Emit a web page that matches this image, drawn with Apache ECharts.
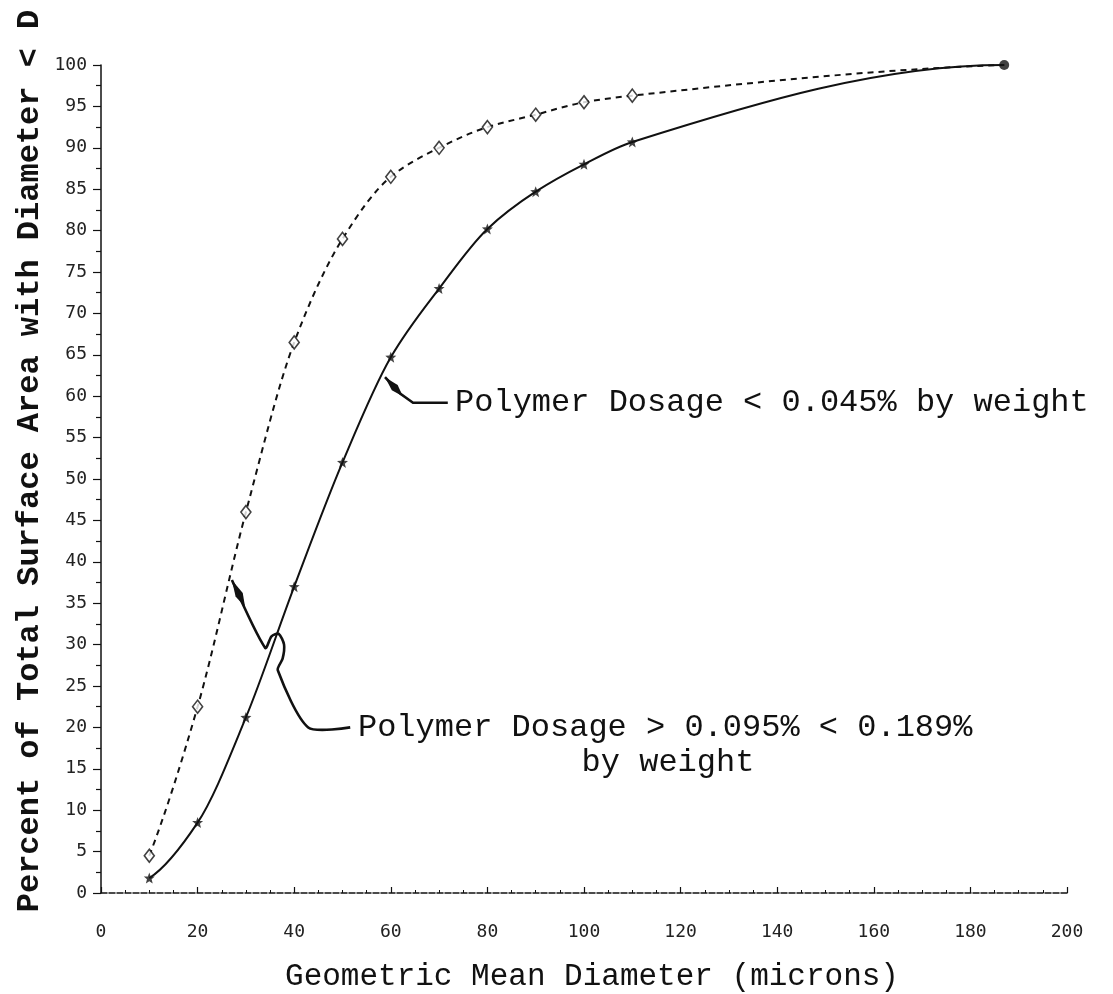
<!DOCTYPE html>
<html>
<head>
<meta charset="utf-8">
<script src="https://cdn.jsdelivr.net/npm/echarts@6/dist/echarts.min.js"></script>
<style>
html,body{margin:0;padding:0;background:#fff;}
#chart{width:1113px;height:994px;}
</style>
</head>
<body>
<div id="chart"></div>
<script>
// ---- data ----
const xValues = [10, 20, 30, 40, 50, 60, 70, 80, 90, 100, 110, 187];
const dashedY = [4.5, 22.5, 46, 66.5, 79, 86.5, 90, 92.5, 94, 95.5, 96.3, 100];
const solidY  = [1.8, 8.5, 21.2, 37, 52, 64.7, 73, 80.2, 84.7, 88, 90.7, 100];
const xTickLabels = [0, 20, 40, 60, 80, 100, 120, 140, 160, 180, 200];
const yTickLabels = [0,5,10,15,20,25,30,35,40,45,50,55,60,65,70,75,80,85,90,95,100];
const xTitle = 'Geometric Mean Diameter (microns)';
const yTitle = 'Percent of Total Surface Area with Diameter < D';
const upperLabel = 'Polymer Dosage < 0.045% by weight';
const lowerLabel1 = 'Polymer Dosage > 0.095% < 0.189%';
const lowerLabel2 = 'by weight';

// annotation anchors in data units
const upperLeader = [[58.8, 62.3], [62.0, 60.3], [64.6, 59.2], [71.8, 59.2]];
const lowerLeader = [[27.1, 37.8], [34.0, 29.6], [35.3, 31.0], [36.8, 31.3], [37.9, 30.0], [37.6, 28.3], [36.6, 26.9], [42.9, 20.0], [51.6, 20.0]];
const upperTextAt = [73.3, 59.2];
const lowerTextAt = [53.2, 20.0];
const lowerText2At = [99.5, 15.8];

const pts = (ys) => xValues.map((x, i) => [x, ys[i]]);
const last = xValues.length - 1;

const FONT = '"Liberation Mono", "DejaVu Sans Mono", monospace';
const TICKFONT = '"DejaVu Sans Mono", monospace';

// monotone (PCHIP) tangents so the drawn curve passes smoothly through the data points
function tangents(xs, ys) {
  const n = xs.length, h = [], d = [], m = new Array(n).fill(0);
  for (let i = 0; i < n - 1; i++) { h.push(xs[i + 1] - xs[i]); d.push((ys[i + 1] - ys[i]) / h[i]); }
  for (let k = 1; k < n - 1; k++) {
    if (d[k - 1] * d[k] <= 0) { m[k] = 0; continue; }
    const w1 = 2 * h[k] + h[k - 1], w2 = h[k] + 2 * h[k - 1];
    m[k] = (w1 + w2) / (w1 / d[k - 1] + w2 / d[k]);
  }
  function endSlope(h0, h1, d0, d1) {
    let s = ((2 * h0 + h1) * d0 - h0 * d1) / (h0 + h1);
    if (Math.sign(s) !== Math.sign(d0)) s = 0;
    else if (Math.sign(d0) !== Math.sign(d1) && Math.abs(s) > Math.abs(3 * d0)) s = 3 * d0;
    return s;
  }
  m[0] = endSlope(h[0], h[1], d[0], d[1]);
  m[n - 1] = endSlope(h[n - 2], h[n - 3], d[n - 2], d[n - 3]);
  return m;
}

function curveSeries(ys, lineStyle) {
  const m = tangents(xValues, ys);
  return {
    type: 'custom',
    data: pts(ys),
    encode: {x: 0, y: 1},
    z: 2,
    silent: true,
    renderItem: function (params, api) {
      if (params.dataIndex !== 0) return null;
      const p0 = api.coord([xValues[0], ys[0]]);
      let path = 'M' + p0[0] + ',' + p0[1];
      for (let i = 0; i < xValues.length - 1; i++) {
        const h = xValues[i + 1] - xValues[i];
        const c1 = api.coord([xValues[i] + h / 3, ys[i] + m[i] * h / 3]);
        const c2 = api.coord([xValues[i + 1] - h / 3, ys[i + 1] - m[i + 1] * h / 3]);
        const p1 = api.coord([xValues[i + 1], ys[i + 1]]);
        path += ' C' + c1[0] + ',' + c1[1] + ' ' + c2[0] + ',' + c2[1] + ' ' + p1[0] + ',' + p1[1];
      }
      return {
        type: 'path',
        shape: {pathData: path},
        style: Object.assign({fill: 'none', stroke: '#111'}, lineStyle)
      };
    }
  };
}

const chart = echarts.init(document.getElementById('chart'), null, {renderer: 'canvas'});
const option = {
  animation: false,
  backgroundColor: '#fff',
  grid: {left: 101, right: 46, top: 65, bottom: 101},
  xAxis: {
    type: 'value', min: xTickLabels[0], max: xTickLabels[xTickLabels.length - 1], interval: 20, offset: 10,
    axisLine: {show: true, lineStyle: {color: '#111', width: 1.5, type: [6, 2]}},
    axisTick: {show: true, inside: true, length: 6, lineStyle: {color: '#111', width: 1.2}},
    minorTick: {show: true, splitNumber: 4, length: 3, lineStyle: {color: '#111', width: 1}},
    axisLabel: {fontFamily: TICKFONT, fontSize: 18, color: '#222', margin: 20},
    splitLine: {show: false}
  },
  yAxis: {
    type: 'value', min: yTickLabels[0], max: yTickLabels[yTickLabels.length - 1], interval: 5,
    axisLine: {show: true, lineStyle: {color: '#111', width: 1.5}},
    axisTick: {show: true, length: 8, lineStyle: {color: '#111', width: 1.2}},
    minorTick: {show: true, splitNumber: 2, length: 5, lineStyle: {color: '#111', width: 1.2}},
    axisLabel: {fontFamily: TICKFONT, fontSize: 18, color: '#222', margin: 14},
    splitLine: {show: false}
  },
  series: [
    curveSeries(dashedY, {lineWidth: 2, lineDash: [6, 5]}),
    curveSeries(solidY, {lineWidth: 2}),
    {
      type: 'scatter', data: pts(dashedY).slice(0, last),
      symbol: 'diamond', symbolSize: [10, 13],
      itemStyle: {color: '#fff', borderColor: '#111', borderWidth: 1.6},
      z: 3
    },
    {
      type: 'scatter', data: pts(solidY).slice(0, last),
      symbol: 'path://M0,-10 L2.6,-3.4 L10,-3.1 L4.2,1.6 L6.2,9 L0,4.8 L-6.2,9 L-4.2,1.6 L-10,-3.1 L-2.6,-3.4 Z',
      symbolSize: 11,
      itemStyle: {color: '#111'},
      z: 3
    },
    {
      type: 'scatter', data: [[xValues[last], dashedY[last]]],
      symbol: 'circle', symbolSize: 10, itemStyle: {color: '#111'}, z: 5
    }
  ]
};
chart.setOption(option);

function px(p) { return chart.convertToPixel({gridIndex: 0}, p); }
function arrowHead(a, b, len, w) {
  const dx = b[0] - a[0], dy = b[1] - a[1];
  const d = Math.hypot(dx, dy) || 1;
  const ux = dx / d, uy = dy / d;
  const nx = -uy, ny = ux;
  const mm = [a[0] + ux * len * 0.55, a[1] + uy * len * 0.55];
  const e = [a[0] + ux * len, a[1] + uy * len];
  return [[a[0], a[1]], [mm[0] + nx * w, mm[1] + ny * w], [e[0], e[1]], [mm[0] - nx * w, mm[1] - ny * w]];
}
const up = upperLeader.map(px);
const lo = lowerLeader.map(px);
const ut = px(upperTextAt), lt = px(lowerTextAt), lt2 = px(lowerText2At);
const graphics = [
  {type: 'polyline', shape: {points: up}, style: {stroke: '#111', lineWidth: 2.6, fill: null}, z: 10},
  {type: 'polygon', shape: {points: arrowHead(up[0], up[1], 26, 4)}, style: {fill: '#111'}, z: 10},
  {type: 'polyline', shape: {points: lo, smooth: 0.25}, style: {stroke: '#111', lineWidth: 2.6, fill: null}, z: 10},
  {type: 'polygon', shape: {points: arrowHead(lo[0], lo[1], 30, 4)}, style: {fill: '#111'}, z: 10},
  {type: 'text', x: ut[0], y: ut[1], style: {text: upperLabel, font: '32px ' + FONT, fill: '#111', textVerticalAlign: 'middle', textAlign: 'left'}, z: 10},
  {type: 'text', x: lt[0], y: lt[1], style: {text: lowerLabel1, font: '32px ' + FONT, fill: '#111', textVerticalAlign: 'middle', textAlign: 'left'}, z: 10},
  {type: 'text', x: lt2[0], y: lt2[1], style: {text: lowerLabel2, font: '32px ' + FONT, fill: '#111', textVerticalAlign: 'middle', textAlign: 'left'}, z: 10},
  {type: 'text', x: 592, y: 977, style: {text: xTitle, font: '31px ' + FONT, fill: '#111', textVerticalAlign: 'middle', textAlign: 'center'}, z: 10},
  {type: 'text', x: 30, y: 461, rotation: Math.PI / 2, style: {text: yTitle, font: 'bold 32px ' + FONT, fill: '#111', textVerticalAlign: 'middle', textAlign: 'center'}, z: 10}
];
chart.setOption({graphic: graphics});
</script>
</body>
</html>
